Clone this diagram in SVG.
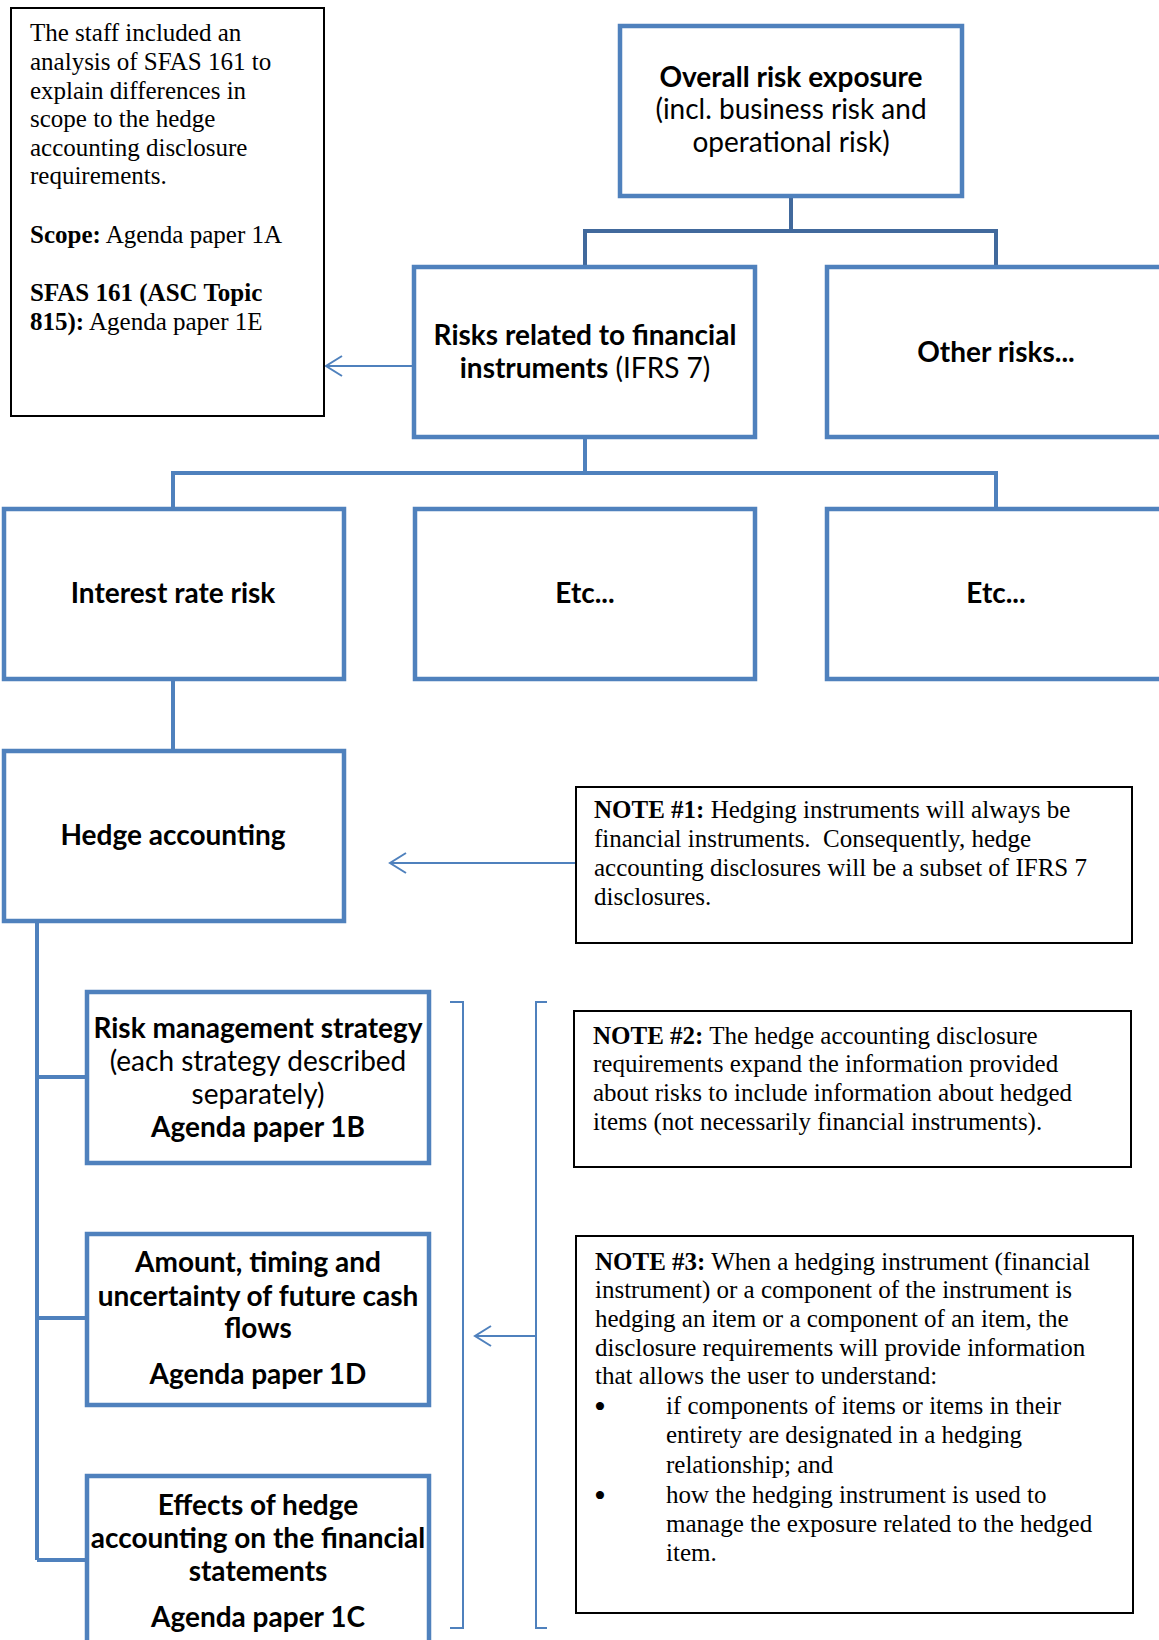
<svg xmlns="http://www.w3.org/2000/svg" width="1159" height="1640" viewBox="0 0 1159 1640">
<style>
.bx{fill:#fff;stroke:#4F81BD;stroke-width:4.5}
.nb{fill:#fff;stroke:#000;stroke-width:2}
.cn{fill:none;stroke:#4F81BD;stroke-width:4}
.cd{fill:none;stroke:#41699C;stroke-width:4}
.th{fill:none;stroke:#4F81BD;stroke-width:2}
.c{font-family:Lato,"Liberation Sans",sans-serif;font-size:28px;fill:#000;text-anchor:middle}
.b{font-weight:bold}
.t{font-family:"Liberation Serif","Times New Roman",serif;font-size:25px;fill:#000}
.bu{font-family:"Liberation Serif","Times New Roman",serif;font-size:34px;fill:#000}
</style>
<rect width="1159" height="1640" fill="#fff"/>
<g id="connectors">
<path class="cd" d="M791,196V231M585,267V231H996V267"/>
<path class="cn" d="M585,437V473M173,509V473H996V509"/>
<path class="cn" d="M173,680V751"/>
<path class="cn" d="M37,921V1560M37,1077H87M37,1318H87M37,1560H87"/>
<path class="th" d="M414,366H326M342,356L326,366L342,376"/>
<path class="th" d="M575,863H390M406,853L390,863L406,873"/>
<path class="th" d="M450,1002H463V1628H450"/>
<path class="th" d="M547,1002H536V1628H547"/>
<path class="th" d="M536,1336H475M491,1326L475,1336L491,1346"/>
</g>
<g id="note-scope">
<rect class="nb" x="11" y="8" width="313" height="408"/>
<text class="t" x="30" y="41">The staff included an</text>
<text class="t" x="30" y="70">analysis of SFAS 161 to</text>
<text class="t" x="30" y="99">explain differences in</text>
<text class="t" x="30" y="127">scope to the hedge</text>
<text class="t" x="30" y="156">accounting disclosure</text>
<text class="t" x="30" y="184">requirements.</text>
<text class="t" x="30" y="243"><tspan class="b">Scope:</tspan> Agenda paper 1A</text>
<text class="t" x="30" y="301"><tspan class="b">SFAS 161 (ASC Topic</tspan></text>
<text class="t" x="30" y="330"><tspan class="b">815):</tspan> Agenda paper 1E</text>
</g>
<g id="overall">
<rect class="bx" x="620" y="26" width="342" height="170"/>
<text class="c b" x="791" y="87">Overall risk exposure</text>
<text class="c" x="791" y="119">(incl. business risk and</text>
<text class="c" x="791" y="152">operational risk)</text>
</g>
<g id="financial">
<rect class="bx" x="414" y="267" width="341" height="170"/>
<text class="c b" x="585" y="345">Risks related to financial</text>
<text class="c" x="585" y="378"><tspan class="b">instruments</tspan> (IFRS 7)</text>
</g>
<g id="other">
<rect class="bx" x="827" y="267" width="345" height="170"/>
<text class="c b" x="996" y="362">Other risks...</text>
</g>
<g id="interest">
<rect class="bx" x="4" y="509" width="340" height="170"/>
<text class="c b" x="173" y="603">Interest rate risk</text>
</g>
<g id="etc1">
<rect class="bx" x="415" y="509" width="340" height="170"/>
<text class="c b" x="585" y="603">Etc...</text>
</g>
<g id="etc2">
<rect class="bx" x="827" y="509" width="345" height="170"/>
<text class="c b" x="996" y="603">Etc...</text>
</g>
<g id="hedge">
<rect class="bx" x="4" y="751" width="340" height="170"/>
<text class="c b" x="173" y="845">Hedge accounting</text>
</g>
<g id="note1">
<rect class="nb" x="576" y="787" width="556" height="156"/>
<text class="t" x="594" y="818"><tspan class="b">NOTE #1:</tspan> Hedging instruments will always be</text>
<text class="t" x="594" y="847">financial instruments.&#160; Consequently, hedge</text>
<text class="t" x="594" y="876">accounting disclosures will be a subset of IFRS 7</text>
<text class="t" x="594" y="905">disclosures.</text>
</g>
<g id="riskmgmt">
<rect class="bx" x="87" y="992" width="342" height="171"/>
<text class="c b" x="258" y="1038">Risk management strategy</text>
<text class="c" x="258" y="1071">(each strategy described</text>
<text class="c" x="258" y="1104">separately)</text>
<text class="c b" x="258" y="1137">Agenda paper 1B</text>
</g>
<g id="amount">
<rect class="bx" x="87" y="1234" width="342" height="171"/>
<text class="c b" x="258" y="1272">Amount, timing and</text>
<text class="c b" x="258" y="1306">uncertainty of future cash</text>
<text class="c b" x="258" y="1338">flows</text>
<text class="c b" x="258" y="1384">Agenda paper 1D</text>
</g>
<g id="effects">
<rect class="bx" x="87" y="1476" width="342" height="200"/>
<text class="c b" x="258" y="1515">Effects of hedge</text>
<text class="c b" x="258" y="1548">accounting on the financial</text>
<text class="c b" x="258" y="1581">statements</text>
<text class="c b" x="258" y="1627">Agenda paper 1C</text>
</g>
<g id="note2">
<rect class="nb" x="574" y="1011" width="557" height="156"/>
<text class="t" x="593" y="1044"><tspan class="b">NOTE #2:</tspan> The hedge accounting disclosure</text>
<text class="t" x="593" y="1072">requirements expand the information provided</text>
<text class="t" x="593" y="1101">about risks to include information about hedged</text>
<text class="t" x="593" y="1130">items (not necessarily financial instruments).</text>
</g>
<g id="note3">
<rect class="nb" x="576" y="1236" width="557" height="377"/>
<text class="t" x="595" y="1270"><tspan class="b">NOTE #3:</tspan> When a hedging instrument (financial</text>
<text class="t" x="595" y="1298">instrument) or a component of the instrument is</text>
<text class="t" x="595" y="1327">hedging an item or a component of an item, the</text>
<text class="t" x="595" y="1356">disclosure requirements will provide information</text>
<text class="t" x="595" y="1384">that allows the user to understand:</text>
<text class="bu" x="594" y="1418">•</text>
<text class="t" x="666" y="1414">if components of items or items in their</text>
<text class="t" x="666" y="1443">entirety are designated in a hedging</text>
<text class="t" x="666" y="1473">relationship; and</text>
<text class="bu" x="594" y="1507">•</text>
<text class="t" x="666" y="1503">how the hedging instrument is used to</text>
<text class="t" x="666" y="1532">manage the exposure related to the hedged</text>
<text class="t" x="666" y="1561">item.</text>
</g>
</svg>
